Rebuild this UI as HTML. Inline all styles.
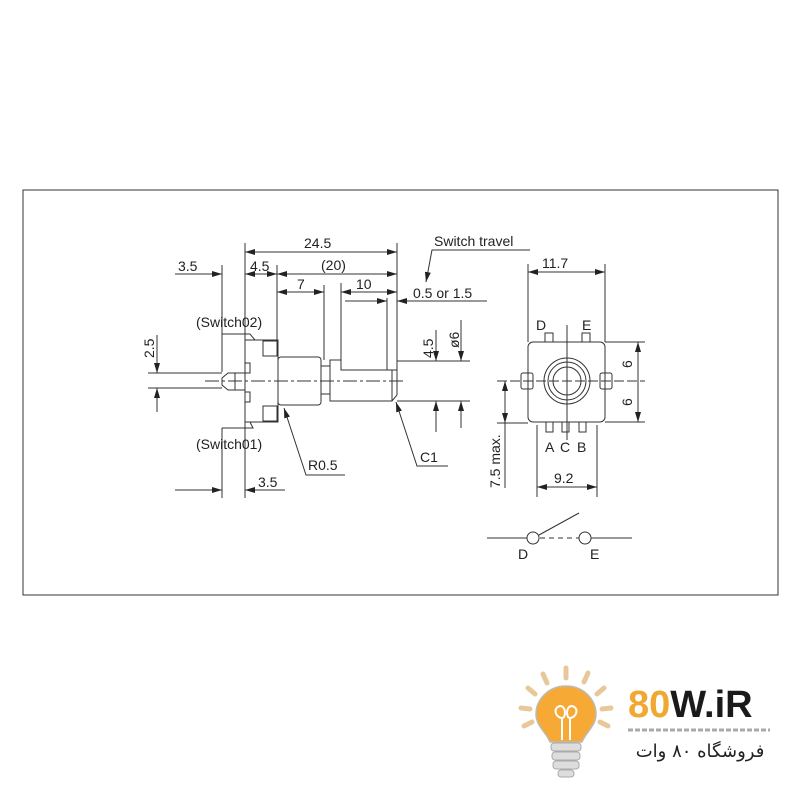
<!DOCTYPE html>
<html><head><meta charset="utf-8"><style>
html,body{margin:0;padding:0;background:#fff;}
svg{display:block}
text{font-family:"Liberation Sans",sans-serif;fill:#222;}
</style></head><body>
<svg width="800" height="800" viewBox="0 0 800 800" xmlns="http://www.w3.org/2000/svg">
<defs>
<marker id="a" viewBox="0 0 10 6" refX="10" refY="3" markerWidth="10" markerHeight="6" orient="auto-start-reverse" markerUnits="userSpaceOnUse"><path d="M0,0 L10,3 L0,6z" fill="#222"/></marker>
</defs>
<rect x="23" y="190" width="755" height="405" fill="none" stroke="#333" stroke-width="1"/>
<g stroke="#333" stroke-width="1" fill="none">
<!-- extension lines -->
<line x1="245" y1="243" x2="245" y2="340"/>
<line x1="397" y1="243" x2="397" y2="372"/>
<line x1="222" y1="265" x2="222" y2="372"/>
<line x1="277" y1="265" x2="277" y2="340"/>
<line x1="324" y1="285" x2="324" y2="360"/>
<line x1="341" y1="283" x2="341" y2="360"/>
<line x1="387" y1="298" x2="387" y2="370"/>
<!-- 24.5 -->
<line x1="245" y1="252" x2="397" y2="252" marker-start="url(#a)" marker-end="url(#a)"/>
<!-- 3.5 / 4.5 / 20 -->
<line x1="175" y1="274" x2="222" y2="274" marker-end="url(#a)"/>
<line x1="245" y1="274" x2="277" y2="274" marker-start="url(#a)" marker-end="url(#a)"/>
<line x1="277" y1="274" x2="397" y2="274" marker-start="url(#a)" marker-end="url(#a)"/>
<!-- 7 / 10 -->
<line x1="277" y1="292" x2="324" y2="292" marker-start="url(#a)" marker-end="url(#a)"/>
<line x1="341" y1="292" x2="397" y2="292" marker-start="url(#a)" marker-end="url(#a)"/>
<!-- 0.5 or 1.5 -->
<line x1="345" y1="301" x2="387" y2="301" marker-end="url(#a)"/>
<line x1="487" y1="301" x2="397" y2="301" marker-end="url(#a)"/>
<!-- switch travel leader -->
<polyline points="530,250 432,250 426,282" marker-end="url(#a)"/>
<!-- body -->
<rect x="245" y="340" width="33" height="82"/>
<rect x="278" y="357" width="43" height="48" rx="3"/>
<rect x="321" y="366" width="9" height="28"/>
<path d="M330,360 L341,360 L341,370 L397,370 L397,395 L392,401 L330,401 Z"/>
<line x1="392" y1="370" x2="392" y2="401"/>
<path d="M235,373 L228,373 L222,378 L222,385 L228,390 L235,390 Z"/>
<line x1="235" y1="373" x2="245" y2="373"/><line x1="235" y1="390" x2="245" y2="390"/>
<rect x="263" y="341" width="14" height="15"/><rect x="263" y="406" width="14" height="15"/>
<rect x="245" y="363" width="5" height="10"/><rect x="245" y="392" width="5" height="10"/>
<path d="M222,334 L250,334 L255,340"/>
<path d="M250,422 L253,428 L240,428 L222,428"/>
<!-- centre line -->
<line x1="205" y1="381" x2="405" y2="381" stroke-dasharray="14,3,3,3"/>
<!-- 2.5 -->
<line x1="148" y1="373" x2="222" y2="373"/><line x1="148" y1="388" x2="222" y2="388"/>
<line x1="157" y1="335" x2="157" y2="373" marker-end="url(#a)"/>
<line x1="157" y1="412" x2="157" y2="388" marker-end="url(#a)"/>
<!-- 4.5 / ø6 -->
<line x1="397" y1="361" x2="470" y2="361"/><line x1="397" y1="401" x2="470" y2="401"/>
<line x1="436" y1="330" x2="436" y2="361" marker-end="url(#a)"/>
<line x1="436" y1="432" x2="436" y2="401" marker-end="url(#a)"/>
<line x1="461" y1="320" x2="461" y2="361" marker-end="url(#a)"/>
<line x1="461" y1="428" x2="461" y2="401" marker-end="url(#a)"/>
<!-- R0.5 / C1 leaders -->
<polyline points="345,475 306,475 284,408" marker-end="url(#a)"/>
<polyline points="448,466 417,466 396,402" marker-end="url(#a)"/>
<!-- bottom 3.5 -->
<line x1="222" y1="428" x2="222" y2="498"/><line x1="245" y1="422" x2="245" y2="498"/>
<line x1="175" y1="490" x2="222" y2="490" marker-end="url(#a)"/>
<line x1="285" y1="490" x2="245" y2="490" marker-end="url(#a)"/>

<!-- right view -->
<line x1="528" y1="264" x2="528" y2="342"/><line x1="605" y1="264" x2="605" y2="342"/>
<line x1="528" y1="272" x2="605" y2="272" marker-start="url(#a)" marker-end="url(#a)"/>
<rect x="528" y="342" width="77" height="80" rx="5"/>
<rect x="521" y="373" width="12" height="16" rx="2"/><rect x="600" y="373" width="12" height="16" rx="2"/>
<circle cx="567" cy="381" r="23"/><circle cx="567" cy="381" r="19"/><circle cx="567" cy="381" r="14"/>
<line x1="567" y1="325" x2="567" y2="440"/>
<line x1="497" y1="381" x2="645" y2="381" stroke-dasharray="10,3"/>
<rect x="545" y="333" width="8" height="9"/><rect x="582" y="333" width="8" height="9"/>
<rect x="546" y="422" width="7" height="10"/><rect x="562" y="422" width="7" height="10"/><rect x="579" y="422" width="7" height="10"/>
<line x1="605" y1="342" x2="645" y2="342"/><line x1="605" y1="422" x2="645" y2="422"/>
<line x1="638" y1="381" x2="638" y2="342" marker-end="url(#a)"/>
<line x1="638" y1="381" x2="638" y2="422" marker-end="url(#a)"/>
<line x1="497" y1="423" x2="528" y2="423"/>
<line x1="505" y1="381" x2="505" y2="423" marker-start="url(#a)" marker-end="url(#a)"/>
<line x1="505" y1="423" x2="505" y2="488"/>
<line x1="537" y1="425" x2="537" y2="497"/><line x1="597" y1="425" x2="597" y2="497"/>
<line x1="537" y1="487" x2="597" y2="487" marker-start="url(#a)" marker-end="url(#a)"/>
<!-- switch symbol -->
<line x1="487" y1="538" x2="527" y2="538"/><circle cx="533" cy="538" r="6"/>
<line x1="540" y1="538" x2="579" y2="538" stroke-dasharray="5,4"/>
<circle cx="585" cy="538" r="6"/><line x1="591" y1="538" x2="632" y2="538"/>
<line x1="539" y1="535" x2="579" y2="513"/>
</g>
<g font-size="14">
<text x="304" y="248">24.5</text>
<text x="178" y="271">3.5</text>
<text x="250" y="271">4.5</text>
<text x="321" y="270">(20)</text>
<text x="297" y="289">7</text>
<text x="356" y="289">10</text>
<text x="413" y="298">0.5 or 1.5</text>
<text x="434" y="246">Switch travel</text>
<text x="196" y="327">(Switch02)</text>
<text x="196" y="449">(Switch01)</text>
<text x="308" y="470">R0.5</text>
<text x="420" y="462">C1</text>
<text x="258" y="487">3.5</text>
<text transform="translate(154,358) rotate(-90)">2.5</text>
<text transform="translate(433,358) rotate(-90)">4.5</text>
<text transform="translate(459,348) rotate(-90)">ø6</text>
<text x="542" y="268">11.7</text>
<text x="536" y="330">D</text><text x="582" y="330">E</text>
<text x="545" y="452">A</text><text x="560" y="452">C</text><text x="577" y="452">B</text>
<text transform="translate(632,368) rotate(-90)">6</text>
<text transform="translate(632,406) rotate(-90)">6</text>
<text transform="translate(500,488) rotate(-90)">7.5 max.</text>
<text x="554" y="483">9.2</text>
<text x="518" y="559">D</text><text x="590" y="559">E</text>
</g>
<!-- logo -->
<g stroke="#e8c89a" stroke-width="5" stroke-linecap="round">
<line x1="543" y1="674" x2="547" y2="683"/><line x1="566" y1="668" x2="566" y2="678"/><line x1="588" y1="673" x2="584" y2="682"/>
<line x1="528" y1="688" x2="535" y2="694"/><line x1="604" y1="688" x2="597" y2="694"/>
<line x1="521" y1="708" x2="530" y2="709"/><line x1="611" y1="708" x2="602" y2="709"/>
<line x1="524" y1="726" x2="532" y2="722"/><line x1="608" y1="726" x2="600" y2="722"/>
</g>
<path d="M566,686 C548,686 536,700 536,714 C536,726 546,732 550,742 L582,742 C586,732 596,726 596,714 C596,700 584,686 566,686Z" fill="#f6a935" stroke="#bbb" stroke-width="1.5"/>
<path d="M562,740 L562,718 C556,718 552,708 560,706 C566,706 566,716 563,718 M570,740 L570,718 C576,718 580,708 572,706 C566,706 566,716 569,718" fill="none" stroke="#fff" stroke-width="2"/>
<g fill="#ddd" stroke="#aaa"><rect x="551" y="743" width="30" height="8" rx="3"/><rect x="552" y="752" width="28" height="8" rx="3"/><rect x="553" y="761" width="26" height="8" rx="3"/><rect x="558" y="770" width="16" height="7" rx="3"/></g>
<text x="628" y="717" font-size="38" font-weight="bold" style="font-family:'Liberation Sans',sans-serif"><tspan fill="#f0a830">80</tspan><tspan fill="#1a1a1a">W.iR</tspan></text>
<line x1="628" y1="730" x2="770" y2="730" stroke="#aaa" stroke-width="3" stroke-dasharray="5,2"/>
<text x="700" y="757" font-size="18" text-anchor="middle" fill="#333" style="font-family:'DejaVu Sans',sans-serif">فروشگاه ۸۰ وات</text>
</svg>
</body></html>
